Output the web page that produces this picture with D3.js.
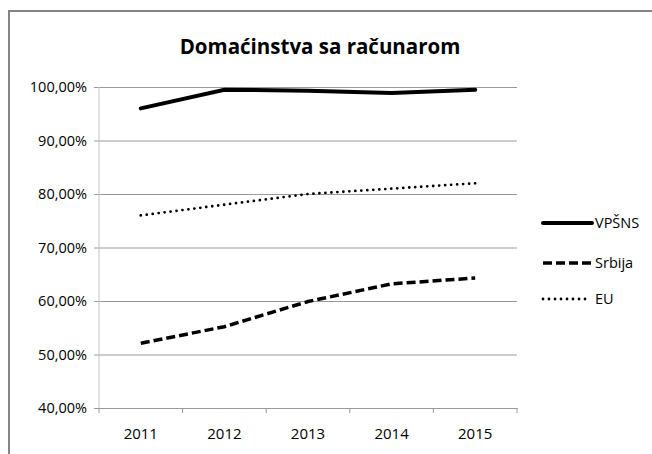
<!DOCTYPE html>
<html>
<head>
<meta charset="utf-8">
<script src="https://cdn.jsdelivr.net/npm/d3@7"></script>
<style>
  body { margin: 0; background: #fff; }
  text { font-family: "Open Sans", "Noto Sans", sans-serif; fill: #000; }
</style>
</head>
<body>
<div id="chart"></div>
<script>
const years = ["2011", "2012", "2013", "2014", "2015"];
const vpsns = [96.0, 99.5, 99.3, 98.9, 99.5];
const srbija = [52.1, 55.2, 59.9, 63.2, 64.3];
const eu = [76.0, 78.0, 80.0, 81.0, 82.0];
const yTicks = [40, 50, 60, 70, 80, 90, 100];
const seriesNames = ["VPŠNS", "Srbija", "EU"];

const W = 652, H = 454;
const margin = { top: 87, right: 135, bottom: 46, left: 99 };
const width = W - margin.left - margin.right;
const height = H - margin.top - margin.bottom;

const root = d3.select("#chart").append("svg")
    .attr("width", W)
    .attr("height", H);

// chart frame
root.append("path")
    .attr("d", "M9,454 V11 H652")
    .attr("fill", "none")
    .attr("stroke", "#858585")
    .attr("stroke-width", 2);

const svg = root.append("g")
    .attr("transform", "translate(" + margin.left + "," + margin.top + ")");

const xScale = d3.scaleBand().domain(years).range([0, width]);
const yScale = d3.scaleLinear().domain([40, 100]).range([height, 0]);

// gridlines + y axis
const yAxis = svg.append("g")
    .call(d3.axisLeft(yScale).tickValues(yTicks).tickSize(-width).tickPadding(12)
        .tickFormat(d => d3.format(".2f")(d).replace(".", ",") + "%"));
yAxis.select(".domain").remove();
yAxis.selectAll(".tick line").attr("stroke", "#9a9a9a").attr("x1", -5);
yAxis.selectAll(".tick text").style("font-size", "14.5px");

svg.append("line")
    .attr("x1", 0).attr("x2", 0).attr("y1", 0).attr("y2", height)
    .attr("stroke", "#c4c4c4");

// x axis
const xAxis = svg.append("g")
    .attr("transform", "translate(0," + height + ")")
    .call(d3.axisBottom(xScale).tickSize(0).tickPadding(20));
xAxis.select(".domain").attr("stroke", "#9a9a9a");
xAxis.selectAll(".tick text").style("font-size", "15px");
svg.append("g")
    .attr("transform", "translate(0," + height + ")")
    .selectAll("line")
    .data(d3.range(years.length + 1))
    .join("line")
    .attr("x1", i => i * xScale.bandwidth())
    .attr("x2", i => i * xScale.bandwidth())
    .attr("y1", 0).attr("y2", 5)
    .attr("stroke", "#9a9a9a");

// lines
const styles = [
    { data: vpsns, width: 4, dash: null, cap: "round" },
    { data: srbija, width: 3.5, dash: "9,4", cap: "butt" },
    { data: eu, width: 2.8, dash: "0,6", cap: "round" }
];
const line = d3.line()
    .x((d, i) => xScale(years[i]) + xScale.bandwidth() / 2)
    .y(d => yScale(d));

styles.forEach(s => {
    svg.append("path")
        .attr("d", line(s.data))
        .attr("fill", "none")
        .attr("stroke", "#000")
        .attr("stroke-width", s.width)
        .attr("stroke-dasharray", s.dash)
        .attr("stroke-linecap", s.cap);
});

// legend
const legendY = [223, 263, 299];
const legend = root.append("g");
styles.forEach((s, i) => {
    legend.append("line")
        .attr("x1", 543).attr("x2", i === 2 ? 588 : 592)
        .attr("y1", legendY[i]).attr("y2", legendY[i])
        .attr("stroke", "#000")
        .attr("stroke-width", s.width)
        .attr("stroke-dasharray", s.dash)
        .attr("stroke-linecap", s.cap);
    legend.append("text")
        .attr("x", 595)
        .attr("y", legendY[i])
        .attr("dy", "0.35em")
        .style("font-size", "14.5px")
        .text(seriesNames[i]);
});

// title
root.append("text")
    .attr("x", 320)
    .attr("y", 47)
    .attr("dy", "0.35em")
    .attr("text-anchor", "middle")
    .style("font-size", "20.5px")
    .style("font-weight", "bold")
    .text("Domaćinstva sa računarom");
</script>
</body>
</html>
